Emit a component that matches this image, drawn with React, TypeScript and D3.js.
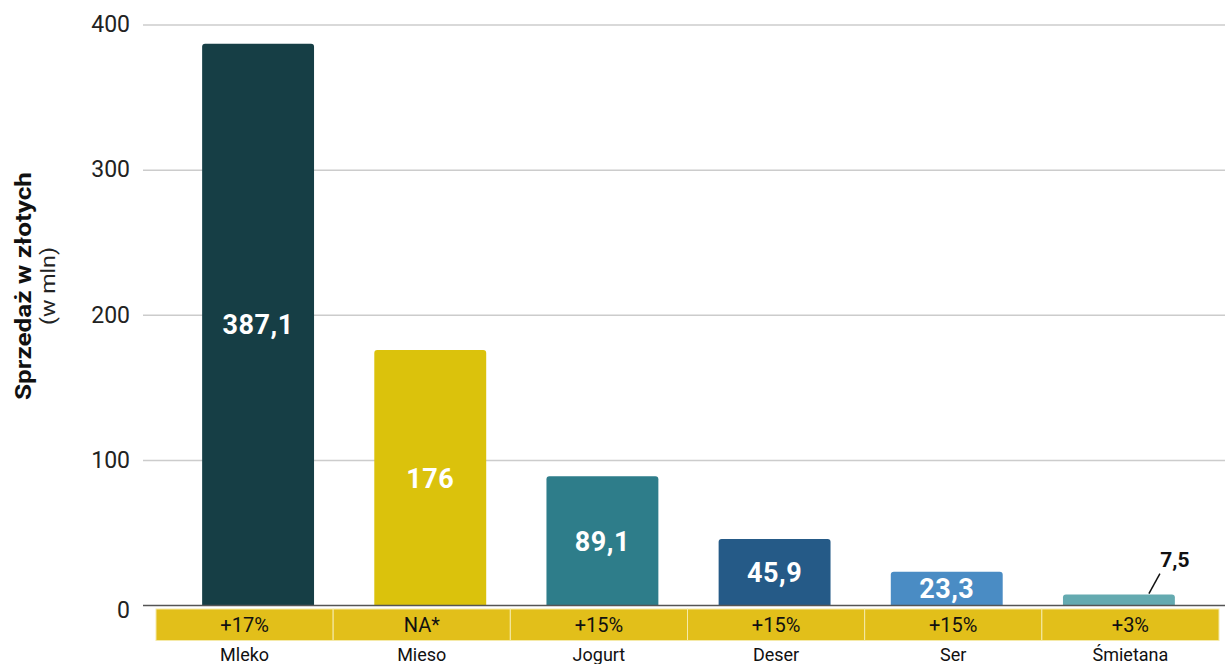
import React from "react";
import * as d3 from "d3";

const categories = ["Mleko", "Mieso", "Jogurt", "Deser", "Ser", "Śmietana"];
const values = [387.1, 176, 89.1, 45.9, 23.3, 7.5];
const valueLabels = ["387,1", "176", "89,1", "45,9", "23,3", "7,5"];
const changes = ["+17%", "NA*", "+15%", "+15%", "+15%", "+3%"];
const barColors = ["#163e45", "#dbc20c", "#2e7d8a", "#255a87", "#4a8cc4", "#64aab0"];
const yTicks = [0, 100, 200, 300, 400];

const W = 1225;
const H = 664;
const FONT = "Roboto, 'Noto Sans', sans-serif";

export default function App() {
  const y = d3.scaleLinear().domain([0, 400]).range([605.5, 25]);
  const x = d3
    .scaleBand<string>()
    .domain(categories)
    .range([172, 1205])
    .paddingInner(0.35)
    .paddingOuter(0.175);
  const xb = d3.scaleBand<string>().domain(categories).range([156, 1219]).padding(0);
  const r = 3;

  const barPath = (x0: number, w: number, top: number, bottom: number) => {
    const p = d3.path();
    p.moveTo(x0, bottom);
    p.lineTo(x0, top + r);
    p.quadraticCurveTo(x0, top, x0 + r, top);
    p.lineTo(x0 + w - r, top);
    p.quadraticCurveTo(x0 + w, top, x0 + w, top + r);
    p.lineTo(x0 + w, bottom);
    p.closePath();
    return p.toString();
  };

  return (
    <svg
      width={W}
      height={H}
      style={{ position: "absolute", left: 0, top: 0, background: "#fff" }}
      fontFamily={FONT}
    >
      {yTicks.map((t) => (
        <g key={t}>
          {t !== 0 && (
            <line x1={143} x2={W} y1={y(t)} y2={y(t)} stroke="#cccccc" strokeWidth={1.5} />
          )}
          <text
            x={130}
            y={y(t)}
            dy={t === 0 ? "0.55em" : "0.32em"}
            textAnchor="end"
            fontSize={23}
            fill="#222"
          >
            {t}
          </text>
        </g>
      ))}

      <g transform="translate(31,286) rotate(-90)">
        <text
          textAnchor="middle"
          fontSize={22}
          fontWeight="bold"
          fill="#111"
          textLength={228}
          lengthAdjust="spacingAndGlyphs"
        >
          Sprzedaż w złotych
        </text>
        <text y={24} textAnchor="middle" fontSize={21} fill="#222" textLength={78} lengthAdjust="spacingAndGlyphs">
          (w mln)
        </text>
      </g>

      {categories.map((c, i) => {
        const x0 = x(c)!;
        const w = x.bandwidth();
        const top = y(values[i]);
        const bottom = y(0);
        const cx = x0 + w / 2;
        const inside = values[i] > 15;
        return (
          <g key={c}>
            <path d={barPath(x0, w, top, bottom)} fill={barColors[i]} />
            {inside ? (
              <text
                x={cx}
                y={(top + bottom) / 2}
                dy="0.36em"
                textAnchor="middle"
                fontSize={27}
                fontWeight="bold"
                fill="#fff"
                letterSpacing={0.5}
              >
                {valueLabels[i]}
              </text>
            ) : (
              <g>
                <line x1={cx + 30} y1={top - 1} x2={cx + 41} y2={top - 21} stroke="#111" strokeWidth={1.5} />
                <text x={cx + 56} y={567} textAnchor="middle" fontSize={21} fontWeight="bold" fill="#111">
                  {valueLabels[i]}
                </text>
              </g>
            )}
          </g>
        );
      })}

      <line x1={143} x2={W} y1={y(0)} y2={y(0)} stroke="#555" strokeWidth={1.5} />

      {categories.map((c, i) => {
        const bx = xb(c)!;
        const bw = xb.bandwidth();
        return (
          <g key={"b" + c}>
            <rect x={bx} y={609} width={bw} height={31.5} fill="#e2bf1a" stroke="#f5eaa8" strokeWidth={1} />
            <text x={bx + bw / 2} y={625} dy="0.36em" textAnchor="middle" fontSize={20} fill="#111">
              {changes[i]}
            </text>
            <text x={bx + bw / 2} y={663} dy="-0.1em" textAnchor="middle" fontSize={18} fill="#111">
              {c}
            </text>
          </g>
        );
      })}
    </svg>
  );
}
